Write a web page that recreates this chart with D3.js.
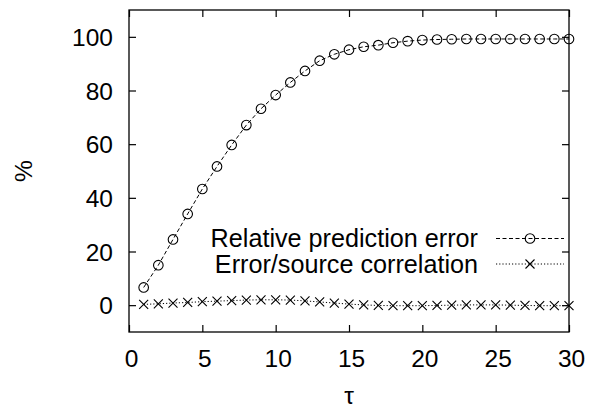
<!DOCTYPE html>
<html>
<head>
<meta charset="utf-8">
<script src="https://cdn.jsdelivr.net/npm/d3@7/dist/d3.min.js"></script>
<style>
html,body{margin:0;padding:0;background:#fff;}
svg{display:block;}
text{font-family:"Liberation Sans",Arial,Helvetica,sans-serif;fill:#000;}
</style>
</head>
<body>
<svg id="chart" width="589" height="408"></svg>
<script>
const tau = d3.range(1, 31);
const relError = [6.6, 14.9, 24.5, 34.0, 43.3, 51.7, 59.7, 67.1, 73.2, 78.3,
                  83.0, 87.3, 91.1, 93.5, 95.2, 96.3, 96.9, 97.8, 98.4, 98.8,
                  99.0, 99.1, 99.2, 99.2, 99.2, 99.2, 99.2, 99.2, 99.2, 99.2];
const corr = [0.3, 0.5, 0.8, 1.0, 1.3, 1.5, 1.7, 1.9, 2.0, 2.0,
              1.9, 1.6, 1.2, 0.8, 0.4, 0.1, -0.1, -0.2, -0.2, -0.2,
              -0.1, 0.0, 0.1, 0.1, 0.1, 0.0, -0.1, -0.2, -0.2, -0.2];
const xTicks = [0, 5, 10, 15, 20, 25, 30];
const yTicks = [0, 20, 40, 60, 80, 100];
const seriesNames = ["Relative prediction error", "Error/source correlation"];

const svg = d3.select("#chart");
const L = 129, R = 569, T = 10, B = 332;
const x = d3.scaleLinear().domain([0, 30]).range([L, R]);
const y = d3.scaleLinear().domain([-10, 110]).range([B, T]);
const fs = 24.5;
const lfs = 25.2;
const tl = 7;

// axes with inward ticks
const gx = svg.append("g").attr("transform", `translate(0,${B})`)
  .call(d3.axisBottom(x).tickValues(xTicks).tickSizeInner(-tl).tickSizeOuter(0).tickPadding(18));
const gxt = svg.append("g").attr("transform", `translate(0,${T})`)
  .call(d3.axisTop(x).tickValues(xTicks).tickSizeInner(-tl).tickSizeOuter(0).tickFormat(""));
const gy = svg.append("g").attr("transform", `translate(${L},0)`)
  .call(d3.axisLeft(y).tickValues(yTicks).tickSizeInner(-tl).tickSizeOuter(0).tickPadding(16));
const gyr = svg.append("g").attr("transform", `translate(${R},0)`)
  .call(d3.axisRight(y).tickValues(yTicks).tickSizeInner(-tl).tickSizeOuter(0).tickFormat(""));
[gx, gxt, gy, gyr].forEach(g => {
  g.select(".domain").remove();
  g.selectAll(".tick line").attr("stroke", "#000").attr("stroke-width", 1.2);
  g.selectAll("text").attr("font-size", fs).attr("font-family", '"Liberation Sans",Arial,sans-serif').attr("fill", "#000");
});
gx.selectAll("text").attr("dy", "0.71em").attr("dx", 2);
gy.selectAll("text").attr("dy", "0.35em");

// frame
svg.append("rect").attr("x", L).attr("y", T).attr("width", R - L).attr("height", B - T)
  .attr("fill", "none").attr("stroke", "#000").attr("stroke-width", 1.3);

// axis labels
svg.append("text").attr("x", (L + R) / 2).attr("y", 404).attr("text-anchor", "middle")
  .attr("font-size", fs).text("τ");
svg.append("text").attr("transform", `translate(32,${(T + B) / 2}) rotate(-90)`)
  .attr("text-anchor", "middle").attr("font-size", fs).text("%");

const line = d3.line().x(d => x(d[0])).y(d => y(d[1]));
const d1 = tau.map((t, i) => [t, relError[i]]);
const d2 = tau.map((t, i) => [t, corr[i]]);

svg.append("path").datum(d1).attr("d", line).attr("fill", "none")
  .attr("stroke", "#000").attr("stroke-width", 1).attr("stroke-dasharray", "4,2.5");
svg.append("path").datum(d2).attr("d", line).attr("fill", "none")
  .attr("stroke", "#000").attr("stroke-width", 1).attr("stroke-dasharray", "1.2,2");

const r = 4.8, c = 4.5;
function circ(g, cx, cy) {
  g.append("circle").attr("cx", cx).attr("cy", cy).attr("r", r)
    .attr("fill", "none").attr("stroke", "#000").attr("stroke-width", 1.1);
}
function cross(g, cx, cy) {
  g.append("path").attr("d", `M${cx - c},${cy - c}L${cx + c},${cy + c}M${cx - c},${cy + c}L${cx + c},${cy - c}`)
    .attr("stroke", "#000").attr("stroke-width", 1.1).attr("fill", "none");
}
const gm = svg.append("g");
d1.forEach(d => circ(gm, x(d[0]), y(d[1])));
d2.forEach(d => cross(gm, x(d[0]), y(d[1])));

// legend
const lg = svg.append("g");
const lx1 = 496, lx2 = 564, lxt = 478;
const ly = [238.5, 264];
lg.append("text").attr("x", lxt).attr("y", ly[0]).attr("dy", "0.35em").attr("text-anchor", "end")
  .attr("font-size", lfs).text(seriesNames[0]);
lg.append("text").attr("x", lxt).attr("y", ly[1]).attr("dy", "0.35em").attr("text-anchor", "end")
  .attr("font-size", lfs).text(seriesNames[1]);
lg.append("line").attr("x1", lx1).attr("x2", lx2).attr("y1", ly[0]).attr("y2", ly[0])
  .attr("stroke", "#000").attr("stroke-width", 1).attr("stroke-dasharray", "4,2.5");
lg.append("line").attr("x1", lx1).attr("x2", lx2).attr("y1", ly[1]).attr("y2", ly[1])
  .attr("stroke", "#000").attr("stroke-width", 1).attr("stroke-dasharray", "1.2,2");
circ(lg, (lx1 + lx2) / 2, ly[0]);
cross(lg, (lx1 + lx2) / 2, ly[1]);
</script>
</body>
</html>
